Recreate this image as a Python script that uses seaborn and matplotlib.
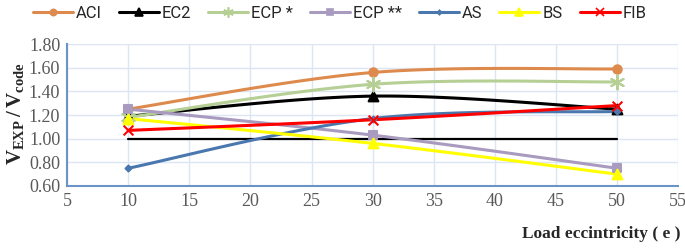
import numpy as np
import pandas as pd
import seaborn as sns
import matplotlib
matplotlib.use("Agg")
import matplotlib.pyplot as plt
from matplotlib.lines import Line2D

# data
ecc = [10, 30, 50]
aci = [1.25, 1.56, 1.59]
ec2 = [1.19, 1.36, 1.25]
ecp1 = [1.18, 1.46, 1.48]
ecp2 = [1.25, 1.03, 0.75]
as_ = [0.75, 1.17, 1.23]
bs = [1.17, 0.96, 0.70]
fib = [1.07, 1.16, 1.28]
ref = [1.00, 1.00, 1.00]

series = {"ACI": aci, "EC2": ec2, "ECP *": ecp1, "ECP **": ecp2,
          "AS": as_, "BS": bs, "FIB": fib}
colors = {"ACI": "#DD8A4C", "EC2": "#000000", "ECP *": "#B5CF95",
          "ECP **": "#A89BBF", "AS": "#4A78AE", "BS": "#FFFF00", "FIB": "#FF0000"}
markers = {"ACI": "o", "EC2": "^", "ECP *": (6, 2, 0), "ECP **": "s",
           "AS": "D", "BS": "^", "FIB": "x"}
msizes = {"ACI": 6, "EC2": 7, "ECP *": 10, "ECP **": 6, "AS": 3, "BS": 7, "FIB": 7}

df = pd.DataFrame([{"e": x, "ratio": v, "code": k}
                   for k, vals in series.items() for x, v in zip(ecc, vals)])

sns.set_style("white")
plt.rcParams["font.family"] = ["Liberation Serif", "DejaVu Sans"]
plt.rcParams["mathtext.fontset"] = "custom"
plt.rcParams["mathtext.rm"] = "Liberation Serif"
plt.rcParams["mathtext.bf"] = "Liberation Serif:bold"


def smooth(x, y, n=40):
    # excel-style smoothed line through the points (cubic bezier segments)
    p = np.column_stack([x, y]).astype(float)
    pts = np.vstack([p[0], p, p[-1]])
    out = []
    t = np.linspace(0, 1, n)[:, None]
    for i in range(1, len(pts) - 2):
        p0, p1 = pts[i], pts[i + 1]
        c1 = p0 + (pts[i + 1] - pts[i - 1]) / 6
        c2 = p1 - (pts[i + 2] - pts[i]) / 6
        seg = ((1 - t) ** 3) * p0 + 3 * ((1 - t) ** 2) * t * c1 + 3 * (1 - t) * t ** 2 * c2 + t ** 3 * p1
        out.append(seg)
    s = np.vstack(out)
    return s[:, 0], s[:, 1]


fig = plt.figure(figsize=(6.85, 2.52), dpi=100)
ax = fig.add_axes([0.098, 0.262, 0.892, 0.563])

# reference line at 1.0
ax.plot(ecc, ref, color="black", lw=1.6, zorder=2)

for name in series:
    sub = df[df["code"] == name]
    xs, ys = smooth(sub["e"].values, sub["ratio"].values)
    ax.plot(xs, ys, color=colors[name], lw=2.2, zorder=3)
    sns.scatterplot(data=sub, x="e", y="ratio", ax=ax, color=colors[name],
                    marker=markers[name], s=msizes[name] ** 2,
                    edgecolor=colors[name], linewidth=1.5, zorder=4, legend=False)

ax.set_xlim(5, 55)
ax.set_ylim(0.6, 1.8)
ax.set_xticks(range(5, 60, 5))
ax.set_yticks(np.arange(0.6, 1.81, 0.2))
ax.set_yticklabels([f"{v:.2f}" for v in np.arange(0.6, 1.81, 0.2)])
ax.grid(True, color="#DCE5F2", lw=1.0)
ax.set_axisbelow(True)
for sp in ["top", "right"]:
    ax.spines[sp].set_visible(False)
for sp in ["left", "bottom"]:
    ax.spines[sp].set_color("#6A93C8")
    ax.spines[sp].set_linewidth(1.5)
ax.tick_params(axis="both", length=0, labelsize=13, labelcolor="#595959", pad=5)
ax.set_xlabel("")
ax.set_ylabel("")

fig.text(0.022, 0.55, r"$\mathbf{V_{EXP}\,/\,V_{code}}$", rotation=90,
         fontsize=15, ha="center", va="center")
fig.text(0.993, 0.07, "Load eccintricity ( e )", fontsize=12.5,
         fontweight="bold", ha="right", va="center")

# legend
handles = [Line2D([0], [0], color=colors[k], lw=2.2, marker=markers[k],
                  markersize=msizes[k] * 0.75, markeredgewidth=1.2)
           for k in series]
fig.legend(handles, list(series.keys()), loc="upper center",
           bbox_to_anchor=(0.496, 1.035), ncol=7, frameon=False,
           prop={"family": ["Liberation Sans Narrow", "Roboto"], "size": 12},
           handlelength=2.4, handletextpad=0.2, columnspacing=1.0)

fig.savefig("out.png", dpi=100)
